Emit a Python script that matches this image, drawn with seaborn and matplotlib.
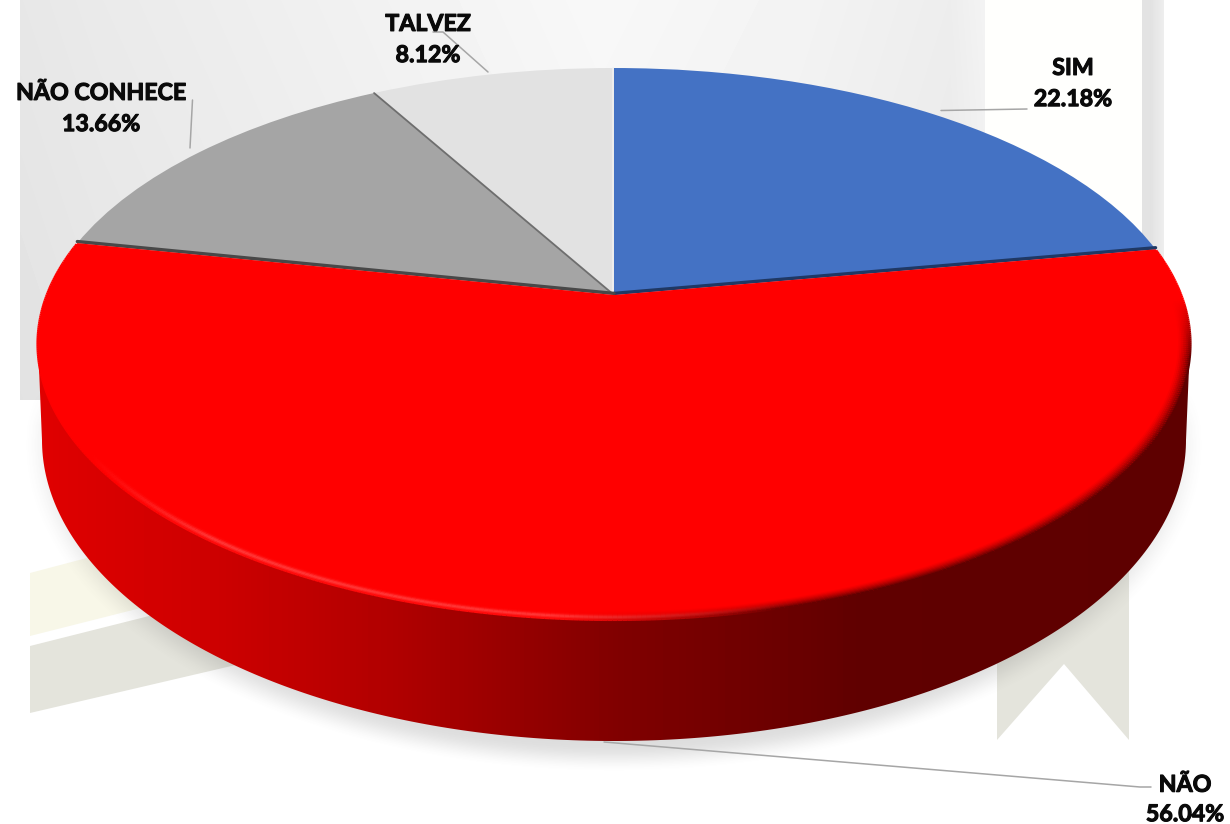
import numpy as np
import matplotlib
matplotlib.use("Agg")
import matplotlib.pyplot as plt
import matplotlib.patheffects as pe
import seaborn as sns
from matplotlib.collections import LineCollection
from matplotlib.colors import LinearSegmentedColormap
from matplotlib.patches import Polygon
from matplotlib.path import Path
from matplotlib.transforms import Transform

# ---- data ----
categories = ["SIM", "NÃO", "NÃO CONHECE", "TALVEZ"]
shares = [22.18, 56.04, 13.66, 8.12]
slice_colors = ["#4472C4", "#FF0000", "#A5A5A5", "#E2E2E2"]

# ---- layout (pixels of the 1230x824 figure) ----
W, H = 1230, 824
CX, CY = 614.0, 295.0
PA, PB, PK = 567.4, 267.3, 0.1776      # perspective of the top face
BASE_YC, BASE_A, BASE_B = 440.0, 572.0, 301.0
label_xy = {"SIM": (1073, 84), "NÃO": (1185, 800), "NÃO CONHECE": (101, 109), "TALVEZ": (428, 40)}
label_gap = {"SIM": 1.6, "NÃO": 1.5, "NÃO CONHECE": 1.6, "TALVEZ": 1.6}
leaders = {
    "SIM": [(941, 110.5), (1027, 109)],
    "NÃO": [(604, 742), (1140, 787), (1151, 787)],
    "NÃO CONHECE": [(192.5, 100), (190, 148)],
    "TALVEZ": [(433, 32), (443, 32), (488, 72)],
}
wall_x = [36, 60, 221, 395, 620, 808, 860, 1192]
wall_r = [225, 221, 204, 176, 128, 104, 96, 94]

sns.set_theme(style="white")
plt.rcParams["font.family"] = ["Lato", "DejaVu Sans"]


def project(x, y):
    d = 1 + PK * np.asarray(y)
    return CX + PA * np.asarray(x) / d, CY - PB * np.asarray(y) / d


class Perspective(Transform):
    input_dims = output_dims = 2
    is_affine = False
    has_inverse = False

    def transform_non_affine(self, xy):
        xy = np.asarray(xy, float)
        px, py = project(xy[:, 0], xy[:, 1])
        return np.column_stack([px, py])

    def transform_path_non_affine(self, path):
        return Path(self.transform_non_affine(path.vertices), path.codes)


def wall_red(x):
    return np.interp(x, wall_x, wall_r) / 255.0


fig = plt.figure(figsize=(W / 100, H / 100), dpi=100, facecolor="white")
ax = fig.add_axes([0, 0, 1, 1])

# ---- faded picture behind the chart ----
xx, yy = np.meshgrid(np.arange(20, 985), np.arange(0, 400))
panel = np.interp(xx, [20, 100, 350, 600, 800, 950, 985], [226, 229, 236, 243, 238, 232, 238]) \
    + 5 * (1 - yy / 400.0)
ax.imshow(panel, cmap="gray", vmin=0, vmax=255, extent=(20, 985, 400, 0), aspect="auto", zorder=1)
ax.add_patch(Polygon([(985, 0), (1142, 0), (1142, 400), (985, 400)], fc="#FFFFFD", ec="none", zorder=1))
strip = np.interp(np.arange(1142, 1164), [1142, 1150, 1164], [228, 226, 238])[None, :]
ax.imshow(strip, cmap="gray", vmin=0, vmax=255, extent=(1142, 1164, 400, 0), aspect="auto", zorder=1)
ax.add_patch(Polygon([(30, 573), (200, 528), (200, 593), (30, 636)], fc="#F8F7E8", ec="none", zorder=1))
ax.add_patch(Polygon([(30, 646), (300, 578), (300, 650), (30, 713)], fc="#E4E4DC", ec="none", zorder=1))
ax.add_patch(Polygon([(997, 560), (1129, 560), (1129, 740), (1064, 664), (997, 740)],
                     fc="#E4E4DC", ec="none", zorder=1))

# ---- soft shadow ----
sx, sy = np.meshgrid(np.arange(W) + 0.5, np.arange(H) + 0.5)
dist = np.sqrt(((sx - CX) / 592.0) ** 2 + ((sy - 445.0) / 328.0) ** 2)
fall = np.clip((1.0 - dist) / 0.09, 0, 1)
fall = fall * fall * (3 - 2 * fall)
shadow = np.zeros((H, W, 4))
shadow[..., :3] = 0.35
shadow[..., 3] = 0.2 * fall * np.clip((sy - 385) / 40.0, 0, 1)
ax.imshow(shadow, extent=(0, W, H, 0), aspect="auto", zorder=2)

# ---- side wall ----
t = np.linspace(0, np.pi, 240)
outline = np.column_stack([CX + BASE_A * np.cos(t), BASE_YC + BASE_B * np.sin(t)])
outline = np.vstack([[CX + 576, 344], outline, [CX - 576, 344]])
cmap = LinearSegmentedColormap.from_list("wall", ["#000000", "#FF0000"])
wall = ax.imshow(wall_red(np.arange(W) + 0.5)[None, :], cmap=cmap, vmin=0, vmax=1,
                 extent=(0, W, H, 0), aspect="auto", zorder=3)
wall_patch = Polygon(outline, closed=True, transform=ax.transData, fc="none", ec="none")
ax.add_patch(wall_patch)
wall.set_clip_path(wall_patch)

# ---- top face: the pie itself, seen through the perspective ----
wedges, _ = ax.pie(shares, colors=sns.color_palette(slice_colors), startangle=90,
                   counterclock=False, radius=1.0, wedgeprops={"linewidth": 0})
persp = Perspective() + ax.transData
for w, z in zip(wedges, [5, 7, 5, 5]):
    w.set_transform(persp)
    w.set_zorder(z)

ax.set_aspect("auto")
ax.axis("off")

# boundaries between the slices (the wall of the raised slice)
ang = np.cumsum([0] + shares) / 100.0 * 2 * np.pi
def spoke(a):
    return project(np.array([0.0, np.sin(a)]), np.array([0.0, np.cos(a)]))

sx0, sy0 = spoke(ang[1]); ax.plot(sx0, sy0 - 1.6, color="#1F3864", lw=2.4, zorder=6.5, solid_capstyle="round")
sx0, sy0 = spoke(ang[2]); ax.plot(sx0, sy0 - 1.6, color="#484848", lw=2.4, zorder=6.5, solid_capstyle="round")
sx0, sy0 = spoke(ang[3]); ax.plot(sx0, sy0, color="#6E6E6E", lw=1.3, zorder=6)
sx0, sy0 = spoke(ang[0]); ax.plot(sx0 - 1.5, sy0, color="#F0F0F0", lw=1.2, zorder=6)

# bevel along the rim of the red slice
arc = np.linspace(ang[1] + 0.004, ang[2] - 0.004, 500)
for r in np.linspace(0.978, 1.0, 9):
    px, py = project(r * np.sin(arc), r * np.cos(arc))
    xm = 0.5 * (px[:-1] + px[1:])
    f = (r - 0.978) / 0.022
    lower = np.clip((0.5 * (py[:-1] + py[1:]) - 300) / 60.0, 0, 1)
    dark = np.clip((xm - 560) / 220.0, 0, 1)              # right part melts into the wall
    glow = np.clip((xm - 90) / 120.0, 0, 1) * np.clip((800 - xm) / 260.0, 0, 1)
    red = 1.0 - dark * lower * f ** 1.4 * (1 - wall_red(xm))
    gb = glow * 0.22 * np.exp(-((f - 0.72) / 0.22) ** 2)
    cols = np.column_stack([red, gb, gb, np.ones_like(xm)])
    segs = np.stack([np.column_stack([px[:-1], py[:-1]]), np.column_stack([px[1:], py[1:]])], axis=1)
    ax.add_collection(LineCollection(segs, colors=cols, linewidths=1.5, zorder=8, capstyle="butt"))

# ---- leader lines and labels ----
for cat in categories:
    pts = np.array(leaders[cat])
    ax.plot(pts[:, 0], pts[:, 1], color="#A6A6A6", lw=1.1, zorder=9)
for cat, val in zip(categories, shares):
    x, y = label_xy[cat]
    ax.text(x, y, f"{cat}\n{val:.2f}%", ha="center", va="center", fontsize=16.7, fontweight="bold",
            color="#0A0A0A", linespacing=label_gap[cat], zorder=10,
            path_effects=[pe.withStroke(linewidth=0.8, foreground="#0A0A0A")])

ax.set_xlim(0, W)
ax.set_ylim(H, 0)
fig.savefig("out.png", dpi=100, facecolor="white")
